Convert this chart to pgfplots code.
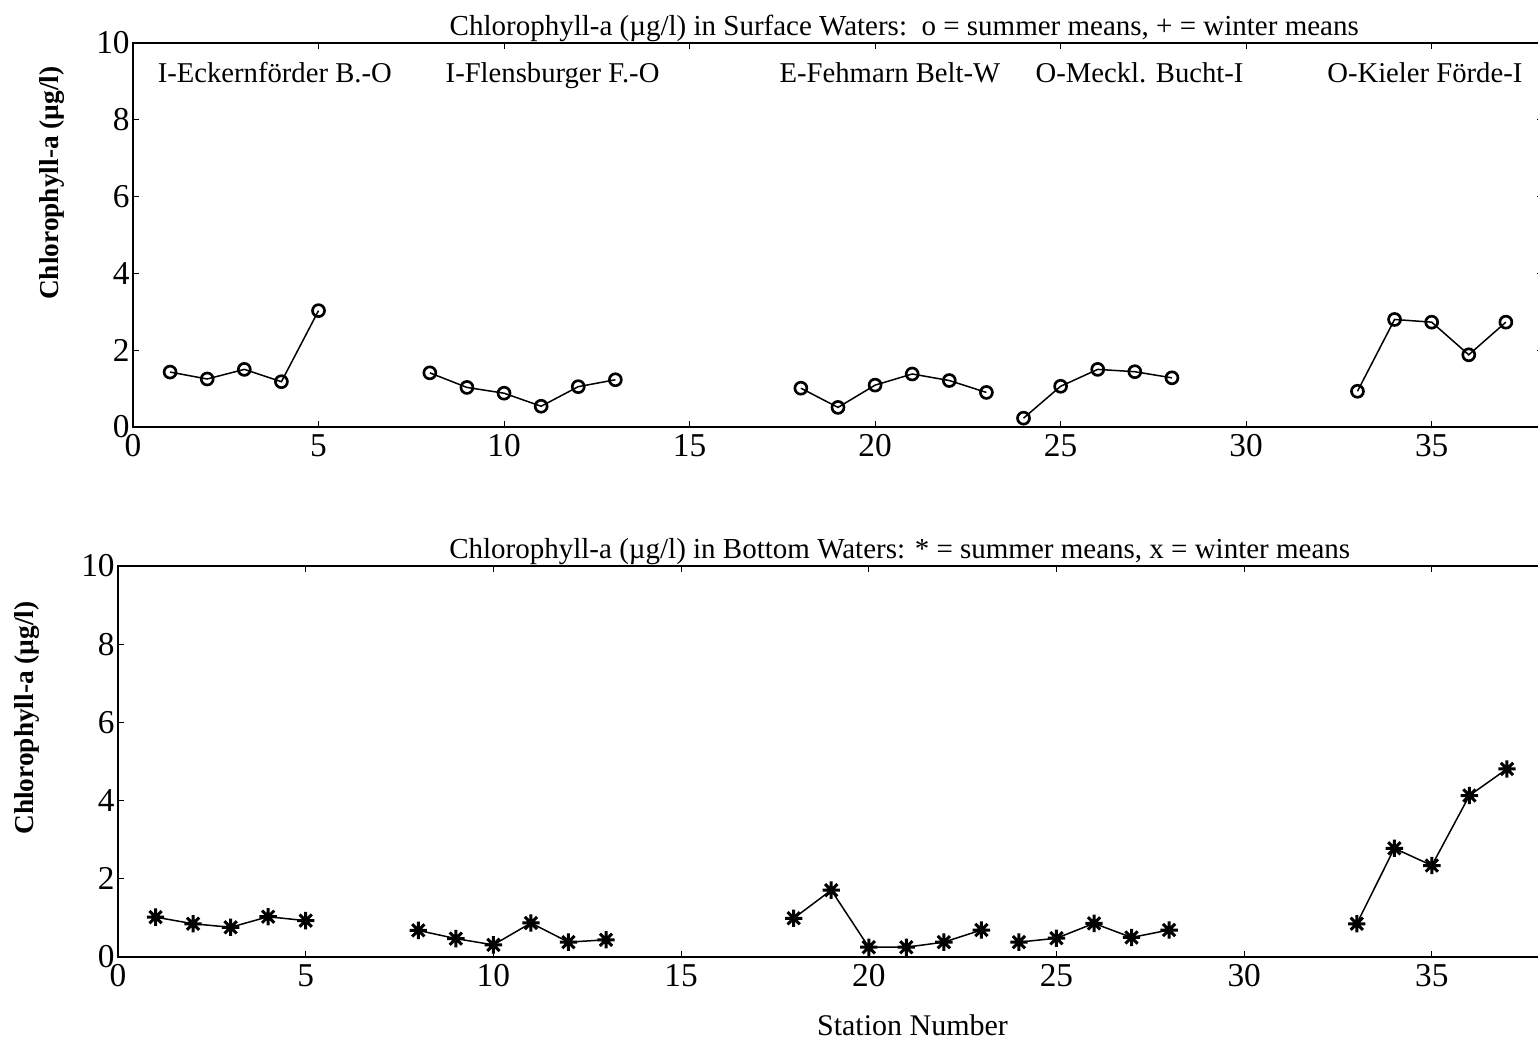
\documentclass[border=0pt]{standalone}
\usepackage{fontspec}
\setmainfont{Liberation Serif}
\usepackage{pgfplots}
\pgfplotsset{compat=1.18}
\usepackage{pgfplotstable}

\pgfdeclareplotmark{star8}{%
  \pgfpathmoveto{\pgfqpoint{0pt}{\pgfplotmarksize}}\pgfpathlineto{\pgfqpoint{0pt}{-\pgfplotmarksize}}%
  \pgfpathmoveto{\pgfqpoint{\pgfplotmarksize}{0pt}}\pgfpathlineto{\pgfqpoint{-\pgfplotmarksize}{0pt}}%
  \pgfpathmoveto{\pgfqpointpolar{45}{\pgfplotmarksize}}\pgfpathlineto{\pgfqpointpolar{225}{\pgfplotmarksize}}%
  \pgfpathmoveto{\pgfqpointpolar{135}{\pgfplotmarksize}}\pgfpathlineto{\pgfqpointpolar{315}{\pgfplotmarksize}}%
  \pgfusepathqstroke}

\pgfplotstableread{
x y
1 1.43
2 1.25
3 1.50
4 1.18
5 3.03
6 nan
8 1.41
9 1.03
10 0.88
11 0.54
12 1.05
13 1.23
14 nan
18 1.01
19 0.51
20 1.09
21 1.38
22 1.21
23 0.90
23.5 nan
24 0.23
25 1.06
26 1.50
27 1.44
28 1.28
29 nan
33 0.93
34 2.80
35 2.73
36 1.88
37 2.73
}\surface

\pgfplotstableread{
x y
1 1.02
2 0.85
3 0.76
4 1.03
5 0.93
6 nan
8 0.68
9 0.47
10 0.31
11 0.87
12 0.38
13 0.44
14 nan
18 0.99
19 1.71
20 0.25
21 0.25
22 0.38
23 0.69
23.5 nan
24 0.38
25 0.48
26 0.86
27 0.50
28 0.69
29 nan
33 0.85
34 2.78
35 2.34
36 4.13
37 4.81
}\bottom

\pgfplotsset{chl/.style={
  scale only axis,
  xmin=0, xmax=38, ymin=0, ymax=10,
  xtick={0,5,...,35}, ytick={0,2,...,10},
  tick align=inside, major tick length=1.8pt,
  tick style={black, line width=0.3pt},
  axis line style={line width=0.45pt},
  ticklabel style={font=\fontsize{10}{12}\selectfont},
  yticklabel style={inner xsep=0.8pt},
  xticklabel style={inner ysep=2pt},
  /pgf/number format/assume math mode=true,
  unbounded coords=jump,
  every axis title shift=-1pt,
  title style={font=\fontsize{8.7}{10}\selectfont, anchor=south, inner sep=1.2pt, yshift=0pt},
  ylabel style={font=\fontsize{8.2}{10}\selectfont\bfseries, anchor=center},
  xlabel style={font=\fontsize{9}{11}\selectfont, anchor=center},
}}

\begin{document}
\begin{tikzpicture}
\begin{axis}[chl,
  at={(39.9pt,-128.1pt)}, anchor=south west,
  width=423pt, height=115.2pt,
  title={Chlorophyll-a (µg/l) in Surface Waters:\ \ o = summer means, + = winter means},
  title style={at={(axis description cs:0.547,1)}},
  ylabel={Chlorophyll-a (µg/l)},
  ylabel style={at={(axis description cs:-0.0577,0.635)}},
]
\addplot[black, line width=0.45pt, mark=o, mark size=1.8pt, mark options={line width=0.8pt, solid}] table[x=x,y=y] {\surface};
\begin{scope}[font=\fontsize{8.6}{10}\selectfont]
\node[anchor=base west, inner sep=0pt] at (axis cs:0.65,8.98) {I-Eckernförder B.-O};
\node[anchor=base west, inner sep=0pt] at (axis cs:8.41,8.98) {I-Flensburger F.-O};
\node[anchor=base west, inner sep=0pt] at (axis cs:17.41,8.98) {E-Fehmarn Belt-W};
\node[anchor=base west, inner sep=0pt] at (axis cs:24.31,8.98) {O-Meckl. Bucht-I};
\node[anchor=base west, inner sep=0pt] at (axis cs:32.17,8.98) {O-Kieler Förde-I};
\end{scope}
\end{axis}

\begin{axis}[chl,
  at={(35.4pt,-287.1pt)}, anchor=south west,
  width=427.95pt, height=117.3pt,
  title={Chlorophyll-a (µg/l) in Bottom Waters: * = summer means, x = winter means},
  title style={at={(axis description cs:0.548,1)}},
  ylabel={Chlorophyll-a (µg/l)},
  ylabel style={at={(axis description cs:-0.064,0.611)}},
  xlabel={Station Number},
  xlabel style={at={(axis description cs:0.557,-0.174)}},
]
\addplot[black, line width=0.45pt, mark=star8, mark size=2.6pt, mark options={line width=0.9pt, solid}] table[x=x,y=y] {\bottom};
\end{axis}

\pgfresetboundingbox
\useasboundingbox (0pt,0pt) rectangle (461.4pt,-312.3pt);
\end{tikzpicture}
\end{document}
